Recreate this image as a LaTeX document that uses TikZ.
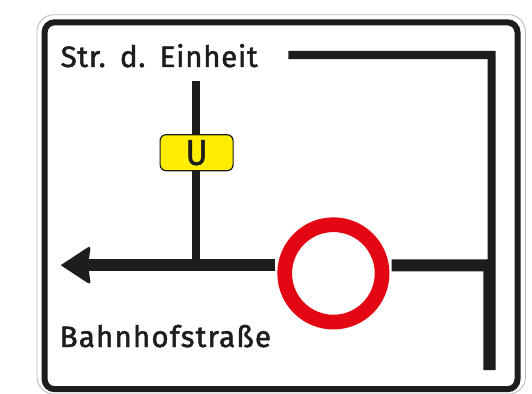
\documentclass[tikz,border=0pt]{standalone}
\usepackage{fontspec}
\setmainfont{Fira Sans}
\definecolor{signblack}{HTML}{1D1D1B}
\definecolor{signred}{HTML}{E30613}
\definecolor{signyellow}{HTML}{FFED00}
\tikzset{
  plate/.style={draw=black!28,line width=0.8pt,fill=white,rounded corners=17pt},
  rim/.style={draw=signblack,line width=6pt,rounded corners=10pt},
  road/.style={fill=signblack,draw=none},
  label/.style={anchor=base west,inner sep=0pt,text=signblack,font=\fontsize{29.5}{32}\selectfont},
  ubox/.style={draw=signblack,line width=1.2pt,fill=signyellow,rounded corners=6pt,minimum width=73pt,minimum height=36pt,inner sep=0pt}
}
\begin{document}
\begin{tikzpicture}[x=1pt,y=-1pt]
\useasboundingbox (0,0) rectangle (532,393);
\fill[white] (0,0) rectangle (532,393);
\draw[plate] (37,14.7) rectangle (525.5,394);
\draw[rim] (44.6,22.3) rectangle (517.5,389.2);
% upper route
\fill[road] (288.3,51) -- (495.7,51) -- (495.7,370) -- (483.3,370) -- (483.3,271.3) -- (391.7,271.3) -- (391.7,259.3) -- (487.7,259.3) -- (487.7,59.2) -- (288.3,59.2) -- cycle;
% side road
\fill[road] (192.3,81) rectangle (200.3,262);
% main road and arrowhead
\fill[road] (275,259.3) rectangle (85,271.2);
\fill[road] (60.7,265.2) -- (87.8,247.4) .. controls (89.5,246.3) and (90.8,246.9) .. (90.4,248.9) -- (88,265.2) -- (90.4,281.5) .. controls (90.8,283.5) and (89.5,284.1) .. (87.8,283) -- cycle;
% ring
\node[circle,draw=signred,line width=14.7pt,minimum size=97.4pt,inner sep=0pt,fill=white] (ring) at (333.4,273.4) {};
% bus-lane plate
\node[ubox] (uplate) at (196.6,152.7) {\scalebox{0.92}[1]{\fontsize{36}{36}\selectfont\addfontfeature{FakeBold=1.5}\color{signblack}U}};
% texts
\node[label] (t1) at (60.5,67) {\addfontfeature{LetterSpace=2.4,FakeBold=1.6}Str.\hspace{0.1em} d.\hspace{0.1em} Einheit};
\node[label] (t2) at (59.5,347) {\addfontfeature{LetterSpace=4,FakeBold=1.6}Bahnhofstraße};
\end{tikzpicture}
\end{document}
